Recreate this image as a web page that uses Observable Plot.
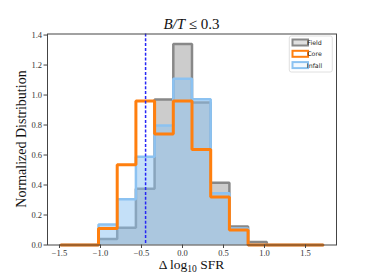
<!DOCTYPE html>
<html><head><meta charset="utf-8">
<script src="https://cdn.jsdelivr.net/npm/d3@7"></script>
<script src="https://cdn.jsdelivr.net/npm/@observablehq/plot@0.6"></script>
<style>body{margin:0;background:#fff}</style>
</head><body><div id="chart"></div>
<script>
// Bin edges of the histograms (Δ log10 SFR)
const binEdges = [-1.48, -1.252, -1.024, -0.796, -0.568, -0.34, -0.112, 0.116, 0.344, 0.572, 0.80, 1.028, 1.256, 1.484, 1.712];
// Normalized distributions per bin
const field  = [0, 0, 0.04, 0.115, 0.375, 0.97, 1.34, 0.95, 0.415, 0.123, 0.02, 0, 0, 0];
const core   = [0, 0, 0.11, 0.535, 0.96, 0.74, 0.96, 0.637, 0.32, 0.10, 0, 0, 0, 0];
const infall = [0, 0, 0.137, 0.305, 0.588, 0.797, 1.108, 0.972, 0.345, 0.11, 0, 0, 0, 0];
const dashedLineX = [-0.45];
const xTicks = [-1.5, -1.0, -0.5, 0.0, 0.5, 1.0, 1.5];
const yTicks = [0.0, 0.2, 0.4, 0.6, 0.8, 1.0, 1.2, 1.4];
const seriesNames = ["Field", "Core", "Infall"];
const titleParts = ["B/T", " \u2264 0.3"];

function outline(vals) {
  const pts = [{x: binEdges[0], y: 0}];
  vals.forEach((v, i) => { pts.push({x: binEdges[i], y: v}, {x: binEdges[i + 1], y: v}); });
  pts.push({x: binEdges[binEdges.length - 1], y: 0});
  return pts;
}
const fmt = d => (d < 0 ? "\u2212" : "") + Math.abs(d).toFixed(1);

const W = 374, H = 280, mL = 47, mR = 38, mT = 33.5, mB = 35.5;
const plot = Plot.plot({
  width: W, height: H,
  marginLeft: mL, marginRight: mR, marginTop: mT, marginBottom: mB,
  x: {domain: [-1.646, 1.878]},
  y: {domain: [0, 1.407]},
  style: {fontFamily: "Liberation Serif", fontSize: "8.5px", color: "#333", background: "#fff"},
  marks: [
    Plot.areaY(outline(field), {x: "x", y1: 0, y2: "y", fill: "#808080", fillOpacity: 0.4}),
    Plot.line(outline(field), {x: "x", y: "y", stroke: "#888", strokeWidth: 2.5, strokeLinejoin: "miter"}),
    Plot.areaY(outline(infall), {x: "x", y1: 0, y2: "y", fill: "#89c1f1", fillOpacity: 0.5}),
    Plot.line(outline(infall), {x: "x", y: "y", stroke: "#8cc2f1", strokeWidth: 2.5, strokeLinejoin: "miter"}),
    Plot.line(outline(core), {x: "x", y: "y", stroke: "#ff7f0e", strokeWidth: 3, strokeLinejoin: "miter"}),
    Plot.ruleX(dashedLineX, {stroke: "#2626f5", strokeWidth: 1.5, strokeDasharray: "3,1.8"}),
    Plot.frame({stroke: "#444"}),
    Plot.axisX({ticks: xTicks, tickFormat: fmt, tickSize: 3.5, tickPadding: 1.5, label: null, stroke: "#444"}),
    Plot.axisY({ticks: yTicks, tickFormat: fmt, tickSize: 3.5, tickPadding: 2, label: null, stroke: "#444"})
  ]
});
document.getElementById("chart").appendChild(plot);

const svg = d3.select(plot);
const cx = mL + (W - mL - mR) / 2;
// Title
const t = svg.append("text").attr("x", cx).attr("y", 29).attr("text-anchor", "middle")
  .attr("font-family", "Liberation Serif").attr("font-size", 15).attr("fill", "#111");
t.append("tspan").attr("font-style", "italic").text(titleParts[0]);
t.append("tspan").text(titleParts[1]);
// X label
const xl = svg.append("text").attr("x", cx).attr("y", 269).attr("text-anchor", "middle")
  .attr("font-family", "Liberation Serif").attr("font-size", 13.5).attr("fill", "#111");
xl.append("tspan").text("\u0394 log");
xl.append("tspan").attr("font-size", 9.5).attr("dy", 3).text("10");
xl.append("tspan").attr("dy", -3).text(" SFR");
// Y label
svg.append("text").attr("transform", `translate(26,${mT + (H - mT - mB) / 2}) rotate(-90)`)
  .attr("text-anchor", "middle").attr("font-family", "Liberation Serif").attr("font-size", 14)
  .attr("fill", "#111").text("Normalized Distribution");
// Legend
const lg = svg.append("g");
lg.append("rect").attr("x", 289.3).attr("y", 36).attr("width", 43).attr("height", 36).attr("rx", 2)
  .attr("fill", "#fff").attr("fill-opacity", 0.8).attr("stroke", "#d8d8d8").attr("stroke-width", 0.8);
const legendStyles = [
  {stroke: "#888", fill: "#e0e0e0"},
  {stroke: "#ff7f0e", fill: "#fff"},
  {stroke: "#8cc2f1", fill: "#f2f8fe"}
];
seriesNames.forEach((name, i) => {
  const y0 = 39.5 + i * 11.3;
  lg.append("rect").attr("x", 292.5).attr("y", y0).attr("width", 15.5).attr("height", 6)
    .attr("fill", legendStyles[i].fill).attr("stroke", legendStyles[i].stroke).attr("stroke-width", 2);
  lg.append("text").attr("x", 314.5).attr("y", y0 + 5.5).attr("font-family", "DejaVu Sans")
    .attr("font-size", 6.3).attr("fill", "#222").text(name);
});
</script>
</body></html>
